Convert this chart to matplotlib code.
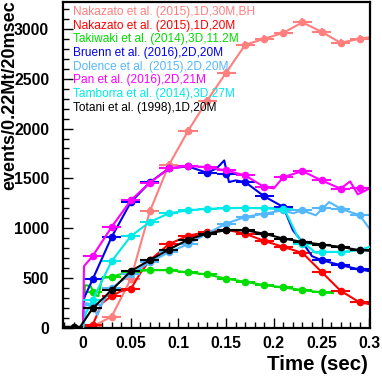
import numpy as np
import matplotlib
matplotlib.use("Agg")
from matplotlib import pyplot as plt
from matplotlib.ticker import MultipleLocator, FormatStrFormatter

plt.rcParams['font.family'] = ['Liberation Sans', 'DejaVu Sans']

# bin centres (20 msec bins)
t_bins = [0.01, 0.03, 0.05, 0.07, 0.09, 0.11, 0.13, 0.15, 0.17, 0.19, 0.21, 0.23, 0.25, 0.27, 0.29]

# Nakazato 30M BH
bh_val = [15, 115, 490, 1170, 1635, 1975, 2280, 2560, 2840, 2900, 2960, 3065, 2970, 2860, 2900]
bh_line_t = [0.0] + t_bins + [0.3]
bh_line_v = [0] + bh_val + [2915]

# Nakazato 20M
n20_val = [30, 320, 390, 680, 840, 925, 963, 987, 945, 873, 813, 753, 563, 373, 257]
n20_line_t = [0.0, 0.01, 0.02, 0.03, 0.04, 0.05, 0.06, 0.07, 0.09, 0.11, 0.13, 0.15, 0.17, 0.19,
              0.21, 0.23, 0.25, 0.27, 0.29, 0.3]
n20_line_v = [0, 30, 250, 320, 370, 390, 550, 680, 840, 925, 963, 987, 945, 873,
              813, 753, 563, 373, 257, 240]

# Takiwaki 11.2M
tk_t = t_bins[:13]
tk_val = [360, 515, 565, 580, 580, 557, 537, 495, 463, 430, 407, 380, 357]
tk_line_t = [0.0, 0.002, 0.008, 0.012, 0.016, 0.02, 0.03, 0.05, 0.07, 0.09, 0.11, 0.13, 0.15,
             0.17, 0.19, 0.21, 0.23, 0.25, 0.262]
tk_line_v = [0, 430, 420, 330, 320, 500, 515, 565, 580, 580, 557, 537, 495,
             463, 430, 407, 380, 357, 350]

# Bruenn 20M
br_val = [487, 913, 1260, 1460, 1600, 1620, 1557, 1540, 1463, 1320, 1213, 860, 680, 630, 587]
br_line_t = [0.0, 0.001, 0.01, 0.03, 0.05, 0.07, 0.09, 0.11, 0.13, 0.14, 0.148, 0.153, 0.16,
             0.17, 0.19, 0.21, 0.22, 0.23, 0.24, 0.25, 0.27, 0.29, 0.3]
br_line_v = [0, 300, 487, 913, 1260, 1460, 1600, 1620, 1557, 1600, 1680, 1463, 1480,
             1463, 1320, 1213, 980, 860, 720, 680, 630, 587, 570]

# Dolence 20M
dl_val = [230, 400, 540, 660, 760, 840, 947, 1047, 1113, 1147, 1180, 1180, 1200, 1197, 1130]
dl_line_t = [0.0, 0.002, 0.008, 0.015, 0.02, 0.03, 0.05, 0.07, 0.09, 0.11, 0.13, 0.15, 0.17,
             0.19, 0.21, 0.22, 0.23, 0.244, 0.258, 0.27, 0.29, 0.3]
dl_line_v = [0, 250, 240, 130, 250, 400, 540, 660, 760, 840, 947, 1047, 1113,
             1147, 1180, 1150, 1180, 1130, 1263, 1197, 1130, 1000]

# Pan 21M
pn_val = [720, 1013, 1280, 1457, 1600, 1625, 1613, 1580, 1530, 1413, 1513, 1573, 1480, 1397, 1400]
pn_line_t = [0.0, 0.001, 0.01, 0.03, 0.05, 0.07, 0.09, 0.11, 0.13, 0.15, 0.17, 0.19, 0.2,
             0.21, 0.23, 0.25, 0.27, 0.28, 0.288, 0.3]
pn_line_v = [0, 620, 720, 1013, 1280, 1457, 1600, 1625, 1613, 1580, 1530, 1413, 1400,
             1513, 1573, 1480, 1397, 1470, 1340, 1397]

# Tamborra 27M
tm_val = [280, 670, 920, 1063, 1150, 1180, 1195, 1200, 1205, 1200, 1190, 847, 763, 763, 780]
tm_line_t = [0.0, 0.003, 0.01, 0.03, 0.05, 0.07, 0.09, 0.11, 0.13, 0.15, 0.17, 0.19, 0.21,
             0.2125, 0.225, 0.232, 0.244, 0.25, 0.27, 0.29, 0.3]
tm_line_v = [0, 150, 280, 670, 920, 1063, 1150, 1180, 1195, 1200, 1205, 1200, 1190,
             1163, 913, 847, 753, 763, 763, 780, 813]

# Totani 20M
tt_t = [-0.01] + t_bins
tt_val = [12, 197, 380, 570, 680, 787, 885, 947, 980, 980, 945, 897, 863, 837, 813, 780]
tt_line_t = [-0.021, -0.01, -0.003] + t_bins + [0.3]
tt_line_v = [12, 12, 12] + tt_val[1:] + [775]

labels = ["Nakazato et al. (2015),1D,30M,BH",
          "Nakazato et al. (2015),1D,20M",
          "Takiwaki et al. (2014),3D,11.2M",
          "Bruenn et al. (2016),2D,20M",
          "Dolence et al. (2015),2D,20M",
          "Pan et al. (2016),2D,21M",
          "Tamborra et al. (2014),3D,27M",
          "Totani et al. (1998),1D,20M"]
colors = ["#ff7f7f", "#ff0000", "#00dd00", "#0000ee", "#55b8ff", "#ff00ff", "#00eaea", "#000000"]

series = [
    (bh_line_t, bh_line_v, t_bins, bh_val),
    (n20_line_t, n20_line_v, t_bins, n20_val),
    (tk_line_t, tk_line_v, tk_t, tk_val),
    (br_line_t, br_line_v, t_bins, br_val),
    (dl_line_t, dl_line_v, t_bins, dl_val),
    (pn_line_t, pn_line_v, t_bins, pn_val),
    (tm_line_t, tm_line_v, t_bins, tm_val),
    (tt_line_t, tt_line_v, tt_t, tt_val),
]

fig = plt.figure(figsize=(3.82, 3.77), dpi=100)
ax = fig.add_axes([0.165, 0.130, 0.804, 0.865])

for i, (lt, lv, mt, mv) in enumerate(series):
    c = colors[i]
    ax.plot(lt, lv, color=c, lw=1.5, zorder=2 + i * 0.1)
    yerr = 40 if i == 0 else None
    ax.errorbar(mt, mv, xerr=0.01, yerr=yerr, fmt='o', color=c, ms=4.5, elinewidth=1.5,
                capsize=0, zorder=2 + i * 0.1)

for i, lab in enumerate(labels):
    ax.text(0.033, 0.969 - i * 0.042, lab, color=colors[i], fontsize=8.6,
            transform=ax.transAxes, ha='left', va='center')

ax.set_xlim(-0.021, 0.301)
ax.set_ylim(0, 3270)
ax.xaxis.set_major_locator(MultipleLocator(0.05))
ax.xaxis.set_minor_locator(MultipleLocator(0.01))
ax.yaxis.set_major_locator(MultipleLocator(500))
ax.yaxis.set_minor_locator(MultipleLocator(100))
ax.xaxis.set_major_formatter(FormatStrFormatter('%g'))
ax.tick_params(which='both', direction='in', top=False, right=False, width=1)
ax.tick_params(which='major', length=7, labelsize=11.3)
ax.tick_params(which='minor', length=4)
ax.tick_params(axis='x', which='major', pad=6)
ax.tick_params(axis='y', which='major', pad=10)
for lbl in ax.get_xticklabels() + ax.get_yticklabels():
    lbl.set_fontweight('bold')
for sp in ax.spines.values():
    sp.set_linewidth(1.6)

fig.text(0.963, 0.019, "Time (sec)", fontsize=14.8, fontweight='bold', ha='right', va='baseline')
fig.text(0.026, 1.0, "events/0.22Mt/20msec", fontsize=13, fontweight='bold', rotation=90,
         ha='center', va='top')

fig.savefig("out.png", dpi=100)
